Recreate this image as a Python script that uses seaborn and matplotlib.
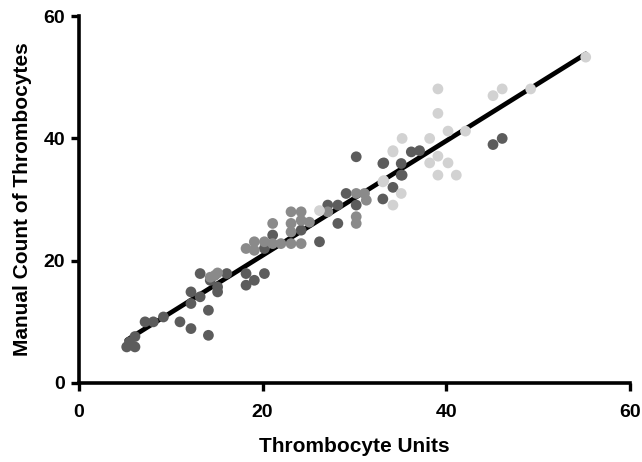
import numpy as np
import pandas as pd
import matplotlib
matplotlib.use("Agg")
import matplotlib.pyplot as plt
import seaborn as sns

# dark gray group
dark_x = [5.2, 6.1, 6.1, 5.5, 7.2, 8.1, 9.2, 11.0, 12.2, 14.1, 14.1, 12.2, 13.2, 12.2,
          13.2, 14.3, 15.1, 15.1, 16.1, 18.2, 19.1, 18.2, 20.2, 20.2, 21.1, 24.2, 26.2,
          28.2, 30.2, 33.1, 33.1, 34.2, 35.1, 35.1, 36.2, 37.1, 30.2, 29.1, 27.1, 28.2,
          45.1, 46.1, 33.2, 35.2]
dark_y = [5.9, 5.9, 7.6, 6.7, 10.0, 10.0, 10.8, 10.0, 8.9, 7.8, 11.9, 13.0, 14.1, 14.9,
          17.9, 16.8, 15.7, 14.9, 17.9, 17.9, 16.8, 16.0, 17.9, 22.0, 24.2, 25.0, 23.1,
          26.1, 37.0, 35.9, 30.1, 32.0, 35.9, 34.0, 37.8, 38.0, 29.1, 31.0, 29.1, 29.1,
          39.0, 40.0, 36.0, 34.0]

# medium gray group
mid_x = [14.8, 15.1, 14.3, 18.2, 19.1, 19.1, 20.2, 21.1, 21.1, 22.0, 23.1, 23.1, 23.1,
         23.1, 24.2, 24.2, 24.2, 25.1, 27.1, 30.2, 30.2, 30.2, 31.3, 31.1]
mid_y = [17.6, 18.0, 17.3, 22.0, 23.1, 21.7, 23.1, 26.1, 22.8, 22.8, 22.8, 24.7, 26.1,
         28.0, 28.0, 26.6, 22.8, 26.3, 28.0, 31.0, 27.2, 26.1, 29.9, 31.0]

# light gray group
light_x = [26.2, 33.1, 34.2, 35.1, 34.2, 35.2, 34.2, 33.2, 38.2, 39.1, 38.2, 40.2, 39.1,
           41.1, 39.1, 39.1, 40.2, 42.1, 45.1, 46.1, 49.2, 55.2]
light_y = [28.2, 32.9, 37.8, 31.0, 29.1, 40.0, 38.0, 33.1, 40.0, 37.1, 36.0, 36.0, 34.0,
           34.0, 48.1, 44.1, 41.2, 41.2, 47.0, 48.1, 48.1, 53.3]

df = pd.concat([
    pd.DataFrame({"x": dark_x, "y": dark_y, "group": "dark"}),
    pd.DataFrame({"x": mid_x, "y": mid_y, "group": "mid"}),
    pd.DataFrame({"x": light_x, "y": light_y, "group": "light"}),
], ignore_index=True)

sns.set_style("ticks")
plt.rcParams["font.family"] = ["Liberation Sans", "DejaVu Sans"]
plt.rcParams["text.color"] = "black"
plt.rcParams["axes.labelcolor"] = "black"
plt.rcParams["xtick.color"] = "black"
plt.rcParams["ytick.color"] = "black"

fig = plt.figure(figsize=(6.42, 4.62), dpi=100)
ax = fig.add_axes([0.123, 0.171, 0.858, 0.794])

sns.regplot(data=df, x="x", y="y", scatter=False, ci=None, truncate=True,
            line_kws={"color": "black", "lw": 3.4, "zorder": 2}, ax=ax)
sns.scatterplot(data=df, x="x", y="y", hue="group",
                palette={"dark": "#5c5c5c", "mid": "#8a8a8a", "light": "#d2d2d2"},
                s=60, linewidth=0, legend=False, zorder=3, ax=ax)

ax.set_xlim(0, 60)
ax.set_ylim(0, 60)
ax.set_xticks([0, 20, 40, 60])
ax.set_yticks([0, 20, 40, 60])
ax.set_xlabel("Thrombocyte Units", fontsize=15, fontweight="bold", labelpad=12)
ax.set_ylabel("Manual Count of Thrombocytes", fontsize=15, fontweight="bold", labelpad=8)
ax.tick_params(labelsize=14, width=2.4, length=6)
ax.tick_params(axis="x", pad=9)
ax.tick_params(axis="y", pad=4)
for lab in ax.get_xticklabels() + ax.get_yticklabels():
    lab.set_fontweight("bold")
for side in ["left", "bottom"]:
    ax.spines[side].set_linewidth(2.6)
    ax.spines[side].set_color("black")
sns.despine(ax=ax)

fig.savefig("out.png", dpi=100)
